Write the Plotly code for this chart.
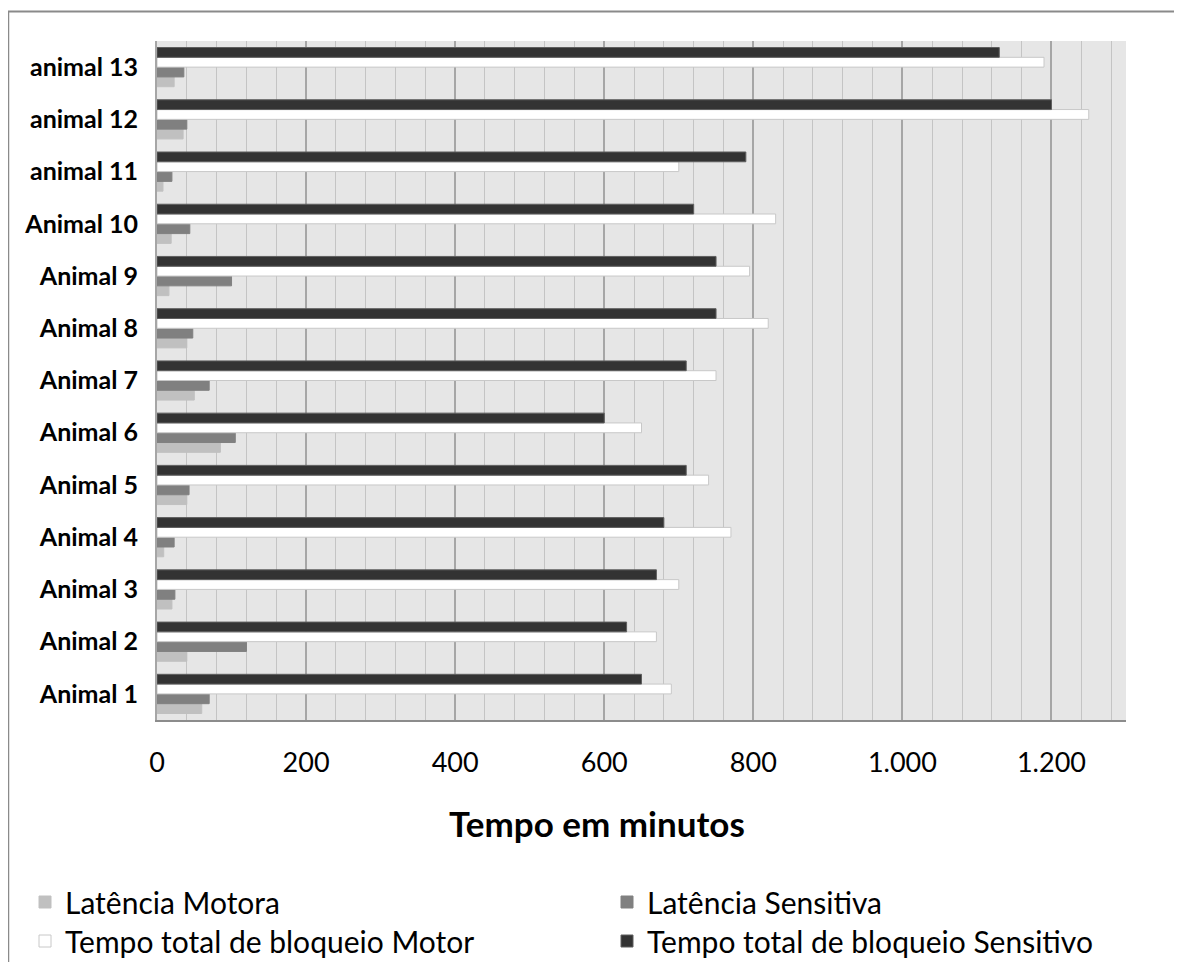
import plotly.graph_objects as go

animals = ["Animal 1", "Animal 2", "Animal 3", "Animal 4", "Animal 5", "Animal 6",
           "Animal 7", "Animal 8", "Animal 9", "Animal 10", "animal 11", "animal 12", "animal 13"]
lat_motora = [60, 40, 20, 9, 40, 85, 50, 40, 16, 19, 8, 35, 23]
lat_sensitiva = [70, 120, 24, 23, 43, 105, 70, 48, 100, 44, 20, 40, 36]
tempo_motor = [690, 670, 700, 770, 740, 650, 750, 820, 795, 830, 700, 1250, 1190]
tempo_sensitivo = [650, 630, 670, 680, 710, 600, 710, 750, 750, 720, 790, 1200, 1130]
x_ticks = [0, 200, 400, 600, 800, 1000, 1200]

FONT = "Lato"
# page offset of the default <body> margin
OFF = 8
W, H = 1182 - OFF, 962 - OFF
L = 157 - OFF
T = 41 - OFF
R = W - (1126 - OFF)
B = H - (720 - OFF)
PW, PH = W - L - R, H - T - B


def px_x(p):  # page pixel -> paper x
    return (p - OFF - L) / PW


def px_y(p):  # page pixel -> paper y
    return (H - B - (p - OFF)) / PH


series = [
    ("Latência Motora", lat_motora, "#c0c0c0", "#c0c0c0", "legend", 66, 902),
    ("Latência Sensitiva", lat_sensitiva, "#808080", "#808080", "legend2", 648, 902),
    ("Tempo total de bloqueio Motor", tempo_motor, "#ffffff", "#c8c8c8", "legend3", 66, 941),
    ("Tempo total de bloqueio Sensitivo", tempo_sensitivo, "#333333", "#5f5f5f", "legend4", 648, 941),
]

fig = go.Figure()
legend_layouts = {}
for name, vals, fill, line, lg, tx, ty in series:
    fig.add_trace(go.Bar(
        y=animals, x=vals, name=name, orientation="h", legend=lg,
        marker=dict(color=fill, line=dict(color=line, width=1)),
    ))
    legend_layouts[lg] = dict(
        x=px_x(tx - 41), y=px_y(ty), xanchor="left", yanchor="middle",
        font=dict(family=FONT, size=30, color="black"),
        bgcolor="rgba(0,0,0,0)", itemclick=False, itemdoubleclick=False,
    )

fig.update_layout(
    width=W, height=H,
    margin=dict(l=L, r=R, t=T, b=B, pad=0, autoexpand=False),
    paper_bgcolor="white", plot_bgcolor="#e6e6e6",
    barmode="group", bargap=0.25, bargroupgap=0,
    separators=",.",
    font=dict(family=FONT, color="black"),
    showlegend=True,
    xaxis=dict(
        range=[0, 1300], tickvals=x_ticks, tickformat=",d",
        showgrid=True, gridcolor="#a6a6a6", gridwidth=1.5,
        minor=dict(dtick=40, tick0=0, showgrid=True, gridcolor="#c4c4c4", gridwidth=1),
        showline=True, linecolor="#8c8c8c", linewidth=1.5,
        zeroline=False, ticks="", ticklabelstandoff=18, automargin=False,
        tickfont=dict(family=FONT, size=27, color="black"),
    ),
    yaxis=dict(
        showgrid=False, zeroline=False, automargin=False,
        showline=True, linecolor="#a6a6a6", linewidth=2,
        ticks="", ticklabelstandoff=12,
        tickfont=dict(family=FONT, size=25, color="black", weight="bold"),
    ),
    annotations=[dict(
        text="<b>Tempo em minutos</b>", x=px_x(597), y=px_y(823),
        xref="paper", yref="paper", xanchor="center", yanchor="middle",
        showarrow=False, font=dict(family=FONT, size=35, color="black"),
    )],
    shapes=[
        dict(type="line", xref="paper", yref="paper",
             x0=px_x(8), x1=px_x(1190), y0=px_y(11.5), y1=px_y(11.5),
             line=dict(color="#8a8a8a", width=2)),
        dict(type="line", xref="paper", yref="paper",
             x0=px_x(8.5), x1=px_x(8.5), y0=px_y(11.5), y1=px_y(970),
             line=dict(color="#8a8a8a", width=1.5)),
    ],
    **legend_layouts,
)

fig.write_html("out.html")
